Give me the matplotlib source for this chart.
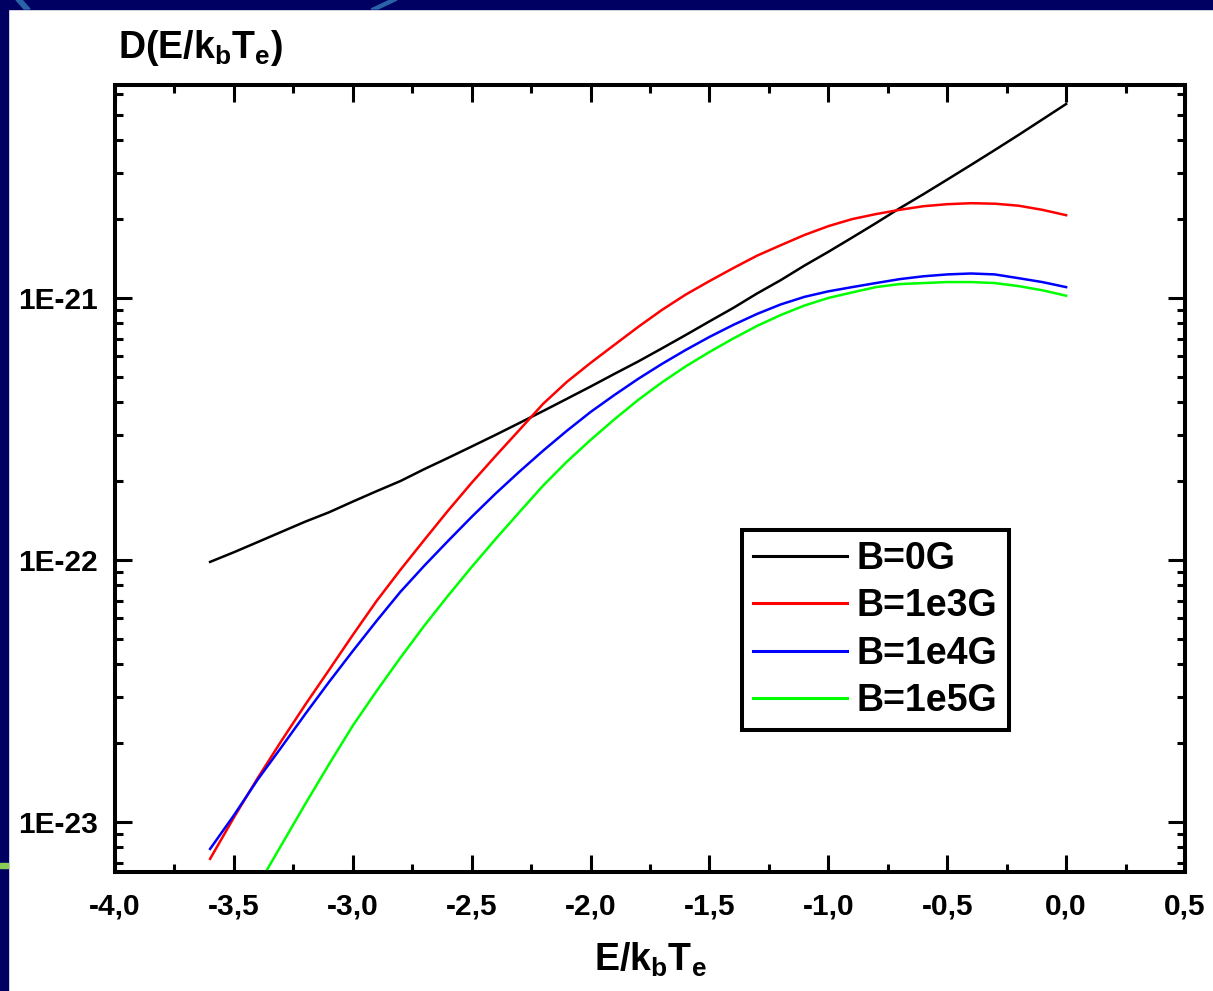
import math
import matplotlib.pyplot as plt
from matplotlib.patches import Rectangle, Polygon
from matplotlib.ticker import FixedLocator, FuncFormatter, LogLocator, NullFormatter

plt.rcParams['font.family'] = ['Liberation Sans', 'DejaVu Sans']
plt.rcParams['font.weight'] = 'bold'
plt.rcParams['axes.labelweight'] = 'bold'
plt.rcParams['mathtext.fontset'] = 'custom'
plt.rcParams['mathtext.rm'] = 'Liberation Sans:bold'
plt.rcParams['mathtext.it'] = 'Liberation Sans:italic:bold'

# E / k_b T_e
energy = [-3.6, -3.5, -3.4, -3.3, -3.2, -3.1, -3.0, -2.9, -2.8, -2.7,
          -2.6, -2.5, -2.4, -2.3, -2.2, -2.1, -2.0, -1.9, -1.8, -1.7,
          -1.6, -1.5, -1.4, -1.3, -1.2, -1.1, -1.0, -0.9, -0.8, -0.7,
          -0.6, -0.5, -0.4, -0.3, -0.2, -0.1, 0.0]
energy_b1e5 = energy[2:]

d_b0 = [9.83e-23, 1.07e-22, 1.17e-22, 1.28e-22, 1.40e-22, 1.52e-22, 1.67e-22, 1.83e-22,
        2.00e-22, 2.22e-22, 2.45e-22, 2.71e-22, 3.00e-22, 3.33e-22, 3.70e-22, 4.12e-22,
        4.59e-22, 5.13e-22, 5.72e-22, 6.42e-22, 7.22e-22, 8.14e-22, 9.16e-22, 1.04e-21,
        1.17e-21, 1.33e-21, 1.50e-21, 1.70e-21, 1.93e-21, 2.20e-21, 2.49e-21, 2.83e-21,
        3.22e-21, 3.67e-21, 4.19e-21, 4.80e-21, 5.50e-21]
d_b1e3 = [7.23e-24, 1.04e-23, 1.47e-23, 2.04e-23, 2.80e-23, 3.80e-23, 5.17e-23, 6.97e-23,
          9.16e-23, 1.19e-22, 1.54e-22, 1.97e-22, 2.49e-22, 3.13e-22, 3.94e-22, 4.78e-22,
          5.65e-22, 6.62e-22, 7.75e-22, 9.00e-22, 1.03e-21, 1.16e-21, 1.30e-21, 1.45e-21,
          1.59e-21, 1.74e-21, 1.88e-21, 2.00e-21, 2.09e-21, 2.17e-21, 2.24e-21, 2.28e-21,
          2.30e-21, 2.29e-21, 2.25e-21, 2.17e-21, 2.07e-21]
d_b1e4 = [7.89e-24, 1.06e-23, 1.45e-23, 1.93e-23, 2.58e-23, 3.42e-23, 4.49e-23, 5.85e-23,
          7.55e-23, 9.49e-23, 1.18e-22, 1.46e-22, 1.79e-22, 2.17e-22, 2.61e-22, 3.11e-22,
          3.67e-22, 4.26e-22, 4.91e-22, 5.60e-22, 6.33e-22, 7.10e-22, 7.89e-22, 8.69e-22,
          9.45e-22, 1.01e-21, 1.06e-21, 1.10e-21, 1.14e-21, 1.18e-21, 1.21e-21, 1.23e-21,
          1.24e-21, 1.23e-21, 1.19e-21, 1.15e-21, 1.10e-21]
d_b1e5 = [5.70e-24, 8.17e-24, 1.17e-23, 1.66e-23, 2.33e-23, 3.16e-23, 4.23e-23, 5.60e-23,
          7.29e-23, 9.40e-23, 1.20e-22, 1.52e-22, 1.92e-22, 2.37e-22, 2.87e-22, 3.44e-22,
          4.08e-22, 4.76e-22, 5.48e-22, 6.22e-22, 7.00e-22, 7.82e-22, 8.61e-22, 9.36e-22,
          1.00e-21, 1.05e-21, 1.10e-21, 1.13e-21, 1.14e-21, 1.15e-21, 1.15e-21, 1.14e-21,
          1.11e-21, 1.07e-21, 1.02e-21]

labels = ['B=0G', 'B=1e3G', 'B=1e4G', 'B=1e5G']
colors = ['black', '#ff0000', '#0000ff', '#00ff00']
x_ticks = [-4.0, -3.5, -3.0, -2.5, -2.0, -1.5, -1.0, -0.5, 0.0, 0.5]

W, H = 1213, 991
fig = plt.figure(figsize=(W / 100, H / 100), dpi=100)
fig.patch.set_facecolor('white')

# dark slide border (left and top)
navy = '#000062'
fig.patches.append(Rectangle((0, 0), 8 / W, 1, transform=fig.transFigure, color=navy, zorder=0))
fig.patches.append(Rectangle((0, 1 - 9 / H), 1, 9 / H, transform=fig.transFigure, color=navy, zorder=0))
for pts in [[(16, 0), (22, 0), (30, 9), (24, 9)], [(390, 0), (397, 0), (378, 9), (371, 9)]]:
    fig.patches.append(Polygon([(px / W, 1 - py / H) for px, py in pts], closed=True,
                               transform=fig.transFigure, color='#2a64a8', zorder=1))
fig.patches.append(Rectangle((0, 1 - 868 / H), 8 / W, 5 / H, transform=fig.transFigure,
                             color='#88cc55', zorder=1))

ax = fig.add_axes([115 / W, 119 / H, 1070 / W, 787 / H])

ax.plot(energy, d_b0, color=colors[0], lw=1.8, label=labels[0])
ax.plot(energy, d_b1e3, color=colors[1], lw=1.8, label=labels[1])
ax.plot(energy, d_b1e4, color=colors[2], lw=1.8, label=labels[2])
ax.plot(energy_b1e5, d_b1e5, color=colors[3], lw=1.8, label=labels[3])

ax.set_yscale('log')
ax.set_xlim(-4.0, 0.5)
ax.set_ylim(6.44e-24, 6.5e-21)

ax.xaxis.set_major_locator(FixedLocator(x_ticks))
ax.xaxis.set_minor_locator(FixedLocator([t + 0.25 for t in x_ticks[:-1]]))
ax.xaxis.set_major_formatter(FuncFormatter(lambda v, p: f'{v:.1f}'.replace('.', ',')))
ax.yaxis.set_major_locator(LogLocator(base=10, numticks=10))
ax.yaxis.set_minor_locator(LogLocator(base=10, subs=range(2, 10), numticks=10))
ax.yaxis.set_major_formatter(FuncFormatter(lambda v, p: f'1E{int(round(math.log10(v)))}'))
ax.yaxis.set_minor_formatter(NullFormatter())

for s in ax.spines.values():
    s.set_linewidth(2.9)
ax.tick_params(which='both', direction='in', top=True, right=True, width=2.2)
ax.tick_params(which='major', length=12, labelsize=21.5)
ax.tick_params(which='minor', length=6)
ax.tick_params(axis='x', which='major', pad=15)
ax.tick_params(axis='y', which='major', pad=12)

ax.set_xlabel(r'E/k$_\mathrm{b}$T$_\mathrm{e}$', fontsize=27, fontweight='bold', labelpad=14)
fig.text(118 / W, 1 - 58 / H, r'D(E/k$_\mathrm{b}$T$_\mathrm{e}$)', fontsize=27, ha='left', va='baseline')

leg = ax.legend(loc='upper left', bbox_to_anchor=(742 / W, 1 - 530 / H), bbox_transform=fig.transFigure,
                borderaxespad=0, fontsize=27, handlelength=2.5, handletextpad=0.25,
                labelspacing=0.3, borderpad=0.3, fancybox=False, framealpha=1)
leg.get_frame().set_edgecolor('black')
leg.get_frame().set_linewidth(2.9)
for line in leg.get_lines():
    line.set_linewidth(2.2)

fig.savefig('out.png', dpi=100)
